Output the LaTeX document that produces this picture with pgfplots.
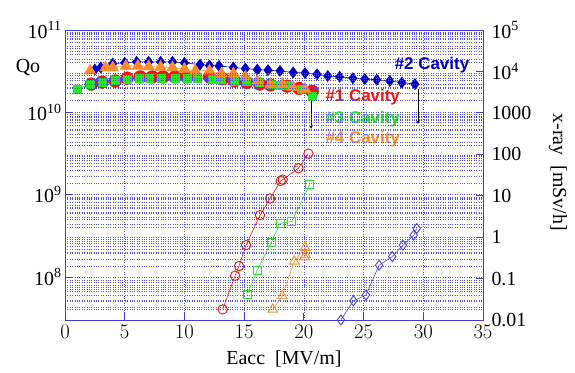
\documentclass[border=0pt]{standalone}
\usepackage{pgfplots}
\pgfplotsset{compat=1.18}
\usepackage{fontspec}
\setmainfont{Liberation Serif}
\newfontfamily\arial{Liberation Sans}
\definecolor{frameblue}{RGB}{60,60,220}
\definecolor{gridblue}{RGB}{80,80,230}
\definecolor{cred}{RGB}{240,20,20}
\definecolor{cgreen}{RGB}{40,230,40}
\definecolor{corange}{RGB}{255,140,40}
\definecolor{cblue}{RGB}{0,0,200}
\definecolor{lblue}{RGB}{70,70,220}
\newcommand{\tsup}[1]{\textsuperscript{#1}}
\begin{document}
\begin{tikzpicture}
\path[use as bounding box] (-65bp,-53bp) rectangle (510bp,320bp);
\begin{axis}[
  at={(0,0)}, anchor=south west, scale only axis,
  width=418bp, height=290bp,
  xmin=0, xmax=35, ymode=log, ymin=3e7, ymax=1e11,
  xtick={0,5,...,35},
  ytick={1e8,1e9,1e10,1e11},
  yticklabels={10\tsup{8},10\tsup{9},10\tsup{10},10\tsup{11}},
  minor ytick={4e7,5e7,6e7,7e7,8e7,9e7,2e8,3e8,4e8,5e8,6e8,7e8,8e8,9e8,2e9,3e9,4e9,5e9,6e9,7e9,8e9,9e9,2e10,3e10,4e10,5e10,6e10,7e10,8e10,9e10},
  xmajorgrids, ymajorgrids, yminorgrids,
  major grid style={gridblue, dotted, line width=0.6pt},
  minor grid style={gridblue, dotted, line width=0.6pt},
  axis line style={frameblue, line width=0.9pt},
  tick style={frameblue, line width=0.9pt},
  major tick length=7bp, minor tick length=0pt,
  tick align=inside, xtick pos=bottom, ytick pos=left,
  tick label style={font=\fontsize{20}{22}\selectfont},
  xticklabel style={yshift=-2bp},
  xlabel={Eacc\ \ [MV/m]},
  xlabel style={font=\fontsize{20}{22}\selectfont, xshift=10bp, yshift=-5bp},
  clip=false,
]
\addplot[cblue, line width=0.6pt, mark=diamond*, mark size=5.5bp, mark options={fill=cblue, draw=cblue}] coordinates {
(2.5,3.3e10)(3,3.5e10)(4,3.9e10)(5,4.0e10)(6,4.1e10)(7,4.1e10)(8,4.1e10)(9,4.1e10)(10,4.0e10)(11.3,3.8e10)(12.1,3.7e10)(12.9,3.66e10)(14.1,3.5e10)(15.1,3.4e10)(16.1,3.3e10)(17,3.25e10)(18,3.18e10)(19.1,3.05e10)(20.1,3.0e10)(21.1,2.9e10)(22,2.76e10)(23,2.7e10)(24.1,2.6e10)(25.1,2.54e10)(26.1,2.48e10)(27.2,2.4e10)(28.2,2.3e10)(29.3,2.2e10)};
\addplot[cred, line width=0.6pt, mark=*, mark size=6.3bp, mark options={fill=cred, draw=cred}] coordinates {
(2.2,2.2e10)(3.1,2.33e10)(4.2,2.4e10)(5.2,2.6e10)(6.3,2.69e10)(7.3,2.69e10)(8.2,2.69e10)(9.2,2.69e10)(10.2,2.69e10)(12.1,2.69e10)(13.2,2.55e10)(14.2,2.4e10)(15.2,2.3e10)(16.3,2.2e10)(17.2,2.15e10)(18.6,2.08e10)(19.6,1.95e10)(20.7,1.8e10)};
\addplot[cgreen, line width=0.6pt, mark=square*, mark size=4bp, mark options={fill=cgreen, draw=cgreen}] coordinates {
(1.0,1.9e10)(2.1,2.2e10)(3.1,2.3e10)(4.2,2.45e10)(5.2,2.55e10)(6.2,2.6e10)(7.1,2.6e10)(8.1,2.6e10)(9.2,2.6e10)(10.2,2.6e10)(11.1,2.6e10)(12.3,2.55e10)(13.1,2.5e10)(14.2,2.4e10)(15.2,2.35e10)(16.3,2.3e10)(17.3,2.2e10)(18,2.15e10)(18.8,2.1e10)(19.8,1.9e10)(20.7,1.57e10)};
\addplot[corange, line width=0.6pt, mark=triangle*, mark size=6.5bp, mark options={fill=corange, draw=corange}] coordinates {
(2.1,3.2e10)(3.4,3.5e10)(4.0,3.5e10)(5.1,3.65e10)(6.1,3.65e10)(7.0,3.6e10)(8.0,3.55e10)(9.0,3.5e10)(10.0,3.35e10)(10.9,3.2e10)(12.1,3.2e10)(13.1,2.95e10)(14.1,2.95e10)(15.1,2.7e10)(16.1,2.4e10)(17.2,2.2e10)(18.2,2.2e10)(19.1,2.03e10)(20.1,1.92e10)};
% arrows
\draw[-stealth, line width=0.7pt] (axis cs:20.6,1.45e10) -- (axis cs:20.6,6.3e9);
\draw[-stealth, line width=0.7pt] (axis cs:29.55,1.92e10) -- (axis cs:29.55,7.2e9);
% labels
\node[anchor=west, text=cblue, font=\arial\bfseries\fontsize{17}{19}\selectfont, inner sep=0pt] at (axis cs:27.6,3.76e10) {\#2 Cavity};
\node[anchor=west, text=cred, font=\arial\bfseries\fontsize{17}{19}\selectfont, inner sep=0pt] at (axis cs:21.8,1.53e10) {\#1 Cavity};
\node[anchor=west, text=cgreen, font=\arial\bfseries\fontsize{17}{19}\selectfont, inner sep=0pt] at (axis cs:21.8,8.3e9) {\#3 Cavity};
\node[anchor=west, text=corange, font=\arial\bfseries\fontsize{17}{19}\selectfont, inner sep=0pt] at (axis cs:21.8,4.74e9) {\#4 Cavity};
\node[font=\fontsize{20}{22}\selectfont] at (rel axis cs:-0.0885,0.869) {Qo};
\node[font=\fontsize{20}{22}\selectfont, rotate=-90] at (rel axis cs:1.179,0.51) {x-ray\ \ [mSv/h]};
\end{axis}
\begin{axis}[
  at={(0,0)}, anchor=south west, scale only axis,
  width=418bp, height=290bp,
  xmin=0, xmax=35, axis x line=none, axis y line*=right,
  ymode=log, ymin=0.01, ymax=1e5,
  ytick={0.01,0.1,1,10,100,1000,1e4,1e5},
  yticklabels={0.01,0.1,1,10,100,1000,10\tsup{4},10\tsup{5}},
  minor ytick={0.02,0.03,0.04,0.05,0.06,0.07,0.08,0.09,0.2,0.3,0.4,0.5,0.6,0.7,0.8,0.9,2,3,4,5,6,7,8,9,20,30,40,50,60,70,80,90,200,300,400,500,600,700,800,900,2000,3000,4000,5000,6000,7000,8000,9000,20000,30000,40000,50000,60000,70000,80000,90000},
  yminorgrids,
  minor grid style={gridblue, dotted, line width=0.6pt},
  axis line style={frameblue, line width=0.9pt},
  tick style={frameblue, line width=0.9pt},
  major tick length=7bp, minor tick length=0pt,
  tick align=inside,
  yticklabel style={font=\fontsize{20}{22}\selectfont, anchor=west, xshift=5bp},
]
\addplot[cred, line width=0.6pt, mark=o, mark size=4.7bp, mark options={line width=0.9pt}] coordinates {
(13.2,0.018)(14.24,0.117)(14.57,0.2)(15.16,0.64)(16.33,3.4)(17.17,8.6)(18.06,22.7)(18.23,24.5)(19.54,46)(20.38,104)};
\addplot[cgreen, line width=0.6pt, mark=square, mark size=4bp, mark options={line width=0.9pt}] coordinates {
(15.27,0.042)(16.1,0.16)(17.25,0.73)(18.0,2.14)(19.0,2.4)(20.5,18.9)};
\addplot[corange, line width=0.6pt, mark=triangle, mark size=5.5bp, mark options={line width=0.9pt}] coordinates {
(17.4,0.018)(18.2,0.038)(19.2,0.26)(20.1,0.56)(20.15,0.37)(20.05,0.33)};
\addplot[lblue, line width=0.6pt, mark=diamond, mark size=5bp, mark options={line width=0.9pt}] coordinates {
(23.1,0.01)(24.15,0.029)(25.2,0.04)(26.3,0.21)(27.4,0.34)(28.3,0.64)(29.2,1.12)(29.45,1.62)};
\end{axis}
\end{tikzpicture}
\end{document}
